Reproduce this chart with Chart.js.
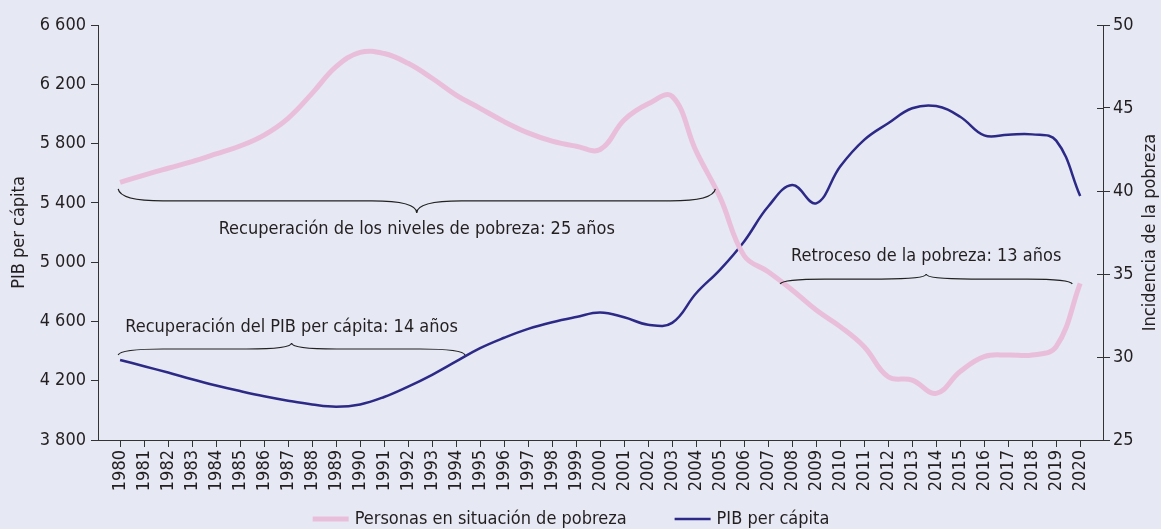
<!DOCTYPE html>
<html>
<head>
<meta charset="utf-8">
<script src="https://cdn.jsdelivr.net/npm/chart.js@4.4.1/dist/chart.umd.min.js"></script>
<style>
  html, body { margin: 0; padding: 0; background: #E6E8F4; }
  #wrap { width: 1161px; height: 529px; position: relative; }
</style>
</head>
<body>
<div id="wrap"><canvas id="chart"></canvas></div>
<script>
// ---- DATA ----
const years = [1980,1981,1982,1983,1984,1985,1986,1987,1988,1989,1990,1991,1992,1993,1994,1995,1996,1997,1998,1999,2000,2001,2002,2003,2004,2005,2006,2007,2008,2009,2010,2011,2012,2013,2014,2015,2016,2017,2018,2019,2020];
const pibPerCapita = [4340,4298,4255,4210,4168,4130,4095,4065,4040,4025,4040,4090,4160,4240,4330,4420,4490,4550,4595,4630,4660,4628,4578,4590,4790,4950,5140,5375,5520,5397,5645,5825,5937,6038,6053,5981,5855,5860,5862,5820,5446];
const pobreza = [40.52,40.96,41.37,41.77,42.23,42.71,43.37,44.38,45.88,47.49,48.35,48.28,47.69,46.79,45.78,44.98,44.18,43.5,43.0,42.7,42.5,44.28,45.25,45.7,42.4,39.6,36.1,35.14,34.04,32.83,31.83,30.62,28.81,28.61,27.81,29.12,30.02,30.12,30.12,30.62,34.44];
const seriesNames = ["Personas en situación de pobreza", "PIB per cápita"];
const leftAxisTitle = "PIB per cápita";
const rightAxisTitle = "Incidencia de la pobreza";
// annotation braces (values in data units: years / left-axis PIB values)
const braceLabels = ["Recuperación de los niveles de pobreza: 25 años", "Recuperación del PIB per cápita: 14 años", "Retroceso de la pobreza: 13 años"];
const braceFrom  = [1979.92, 1979.92, 2007.5];
const braceTo    = [2004.8, 1994.37, 2019.67];
const braceLevel = [5413, 4414, 4886];
const labelLevel = [5224, 4562, 5041];

// ---- STYLE ----
const FONT = "'DejaVu Sans Condensed', 'Liberation Sans Narrow', sans-serif";
const FS = 18;
const TEXT = '#231F20';
const AXIS = '#333333';
const PINK = '#E9BEDB';
const NAVY = '#2C2A86';
const braceDir = [1, -1, -1];
const braceDepth = [12, 6, 5];

Chart.defaults.font.family = FONT;
Chart.defaults.font.size = FS;
Chart.defaults.color = TEXT;

const fmt = v => String(v).replace(/\B(?=(\d{3})+(?!\d))/g, ' ');

const extras = {
  id: 'extras',
  afterDraw(chart) {
    const { ctx, scales: { x, y, y1 }, chartArea } = chart;
    ctx.save();
    // inward ticks on right axis
    ctx.strokeStyle = AXIS; ctx.lineWidth = 1;
    y1.ticks.forEach(t => {
      const py = Math.round(y1.getPixelForValue(t.value)) + 0.5;
      ctx.beginPath(); ctx.moveTo(y1.left - 6, py); ctx.lineTo(y1.left, py); ctx.stroke();
    });
    // braces
    ctx.strokeStyle = '#222'; ctx.lineWidth = 1.2;
    braceLabels.forEach((lab, i) => {
      const x1 = x.getPixelForValue(braceFrom[i]);
      const x2 = x.getPixelForValue(braceTo[i]);
      const yy = y.getPixelForValue(braceLevel[i]);
      const xm = (x1 + x2) / 2;
      const h = braceDepth[i] * braceDir[i];
      const k = Math.min(45, (xm - x1) / 3);
      ctx.beginPath();
      ctx.moveTo(x1, yy - h);
      ctx.quadraticCurveTo(x1 + 2, yy, x1 + k, yy);
      ctx.lineTo(xm - k, yy);
      ctx.quadraticCurveTo(xm, yy, xm, yy + h);
      ctx.quadraticCurveTo(xm, yy, xm + k, yy);
      ctx.lineTo(x2 - k, yy);
      ctx.quadraticCurveTo(x2 - 2, yy, x2, yy - h);
      ctx.stroke();
      ctx.fillStyle = TEXT;
      ctx.font = FS + 'px ' + FONT;
      ctx.textAlign = 'center'; ctx.textBaseline = 'middle';
      ctx.fillText(lab, xm, y.getPixelForValue(labelLevel[i]));
    });
    // axis titles
    const cy = (chartArea.top + chartArea.bottom) / 2;
    ctx.font = FS + 'px ' + FONT;
    ctx.textAlign = 'center'; ctx.textBaseline = 'middle';
    ctx.fillStyle = TEXT;
    ctx.save(); ctx.translate(19, cy); ctx.rotate(-Math.PI / 2); ctx.fillText(leftAxisTitle, 0, 0); ctx.restore();
    ctx.save(); ctx.translate(1150, cy); ctx.rotate(-Math.PI / 2); ctx.fillText(rightAxisTitle, 0, 0); ctx.restore();
    // legend
    const items = chart.data.datasets.map(d => ({ text: d.label, color: d.borderColor, w: d.borderWidth }));
    const lineLen = 36, gapTxt = 6, gapItem = 48;
    let total = 0;
    items.forEach((it, i) => { total += lineLen + gapTxt + ctx.measureText(it.text).width + (i < items.length - 1 ? gapItem : 0); });
    let lx = 571 - total / 2;
    const ly = 519;
    ctx.textAlign = 'left';
    items.forEach(it => {
      ctx.strokeStyle = it.color; ctx.lineWidth = it.w;
      ctx.beginPath(); ctx.moveTo(lx, ly); ctx.lineTo(lx + lineLen, ly); ctx.stroke();
      lx += lineLen + gapTxt;
      ctx.fillStyle = TEXT;
      ctx.fillText(it.text, lx, ly);
      lx += ctx.measureText(it.text).width + gapItem;
    });
    ctx.restore();
  }
};

new Chart(document.getElementById('chart'), {
  type: 'line',
  data: {
    datasets: [
      {
        label: seriesNames[0],
        data: years.map((yr, i) => ({ x: yr, y: pobreza[i] })),
        yAxisID: 'y1',
        borderColor: PINK, borderWidth: 5,
        pointRadius: 0, tension: 0.4, fill: false
      },
      {
        label: seriesNames[1],
        data: years.map((yr, i) => ({ x: yr, y: pibPerCapita[i] })),
        yAxisID: 'y',
        borderColor: NAVY, borderWidth: 2.5,
        pointRadius: 0, tension: 0.4, fill: false
      }
    ]
  },
  options: {
    responsive: true,
    maintainAspectRatio: false,
    animation: false,
    layout: { padding: { top: 25, bottom: 39, left: 0, right: 0 } },
    plugins: { legend: { display: false }, tooltip: { enabled: false } },
    scales: {
      x: {
        type: 'linear', bounds: 'data',
        min: 1979.08, max: 2020.95,
        afterBuildTicks: s => { s.ticks = years.map(v => ({ value: v })); },
        afterFit: s => { s.height = 50; },
        ticks: { autoSkip: false, minRotation: 90, maxRotation: 90, padding: 3, color: TEXT,
                 callback: v => String(v) },
        grid: { drawOnChartArea: false, drawTicks: true, tickLength: 7, color: AXIS },
        border: { display: true, color: AXIS, width: 1 }
      },
      y: {
        position: 'left', min: 3800, max: 6600,
        afterFit: s => { s.width = 98; },
        ticks: { stepSize: 400, padding: 5, color: TEXT, callback: v => fmt(v) },
        grid: { drawOnChartArea: false, drawTicks: true, tickLength: 7, color: AXIS },
        border: { display: true, color: AXIS, width: 1 }
      },
      y1: {
        position: 'right', min: 25, max: 50,
        afterFit: s => { s.width = 58; },
        ticks: { stepSize: 5, padding: 3, color: TEXT },
        grid: { drawOnChartArea: false, drawTicks: true, tickLength: 7, color: AXIS },
        border: { display: true, color: AXIS, width: 1 }
      }
    }
  },
  plugins: [extras]
});
</script>
</body>
</html>
